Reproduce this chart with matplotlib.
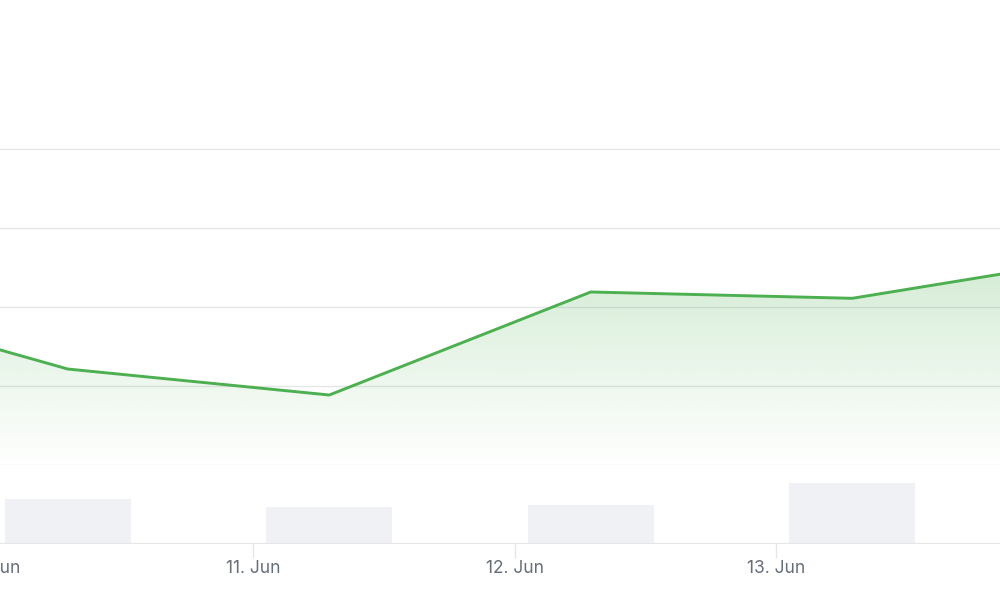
import matplotlib.pyplot as plt
import matplotlib.dates as mdates
import matplotlib.transforms as mtransforms
import numpy as np
import pandas as pd
from matplotlib.colors import to_rgb

plt.rcParams["font.family"] = ["Inter", "DejaVu Sans"]

# line series (daily points, values in grid units)
line_dates = pd.to_datetime(["2024-06-09 07:00", "2024-06-10 07:00", "2024-06-11 07:00",
                             "2024-06-12 07:00", "2024-06-13 07:00", "2024-06-14 07:00"])
line_values = [2.15, 1.215, 0.886, 2.19, 2.11, 2.65]

# volume bars
bar_dates = pd.to_datetime(["2024-06-10 07:00", "2024-06-11 07:00",
                            "2024-06-12 07:00", "2024-06-13 07:00"])
bar_values = [44, 36, 38, 60]

tick_dates = pd.to_datetime(["2024-06-10", "2024-06-11", "2024-06-12", "2024-06-13", "2024-06-14"])
tick_labels = ["10. Jun", "11. Jun", "12. Jun", "13. Jun", "14. Jun"]

line_color = "#4caf50"
grid_color = "#e6e6e6"
bar_color = "#eff1f5"
text_color = "#666e7a"

x0 = mdates.date2num(pd.Timestamp("2024-06-10")) + 8.5 / 261.5
x1 = x0 + 1000 / 261.5

fig = plt.figure(figsize=(10, 6), dpi=100)
ax = fig.add_axes([0, 135 / 600, 1, 465 / 600])
axb = fig.add_axes([0, 57 / 600, 1, 78 / 600], sharex=ax)
axb.patch.set_alpha(0)

# top pane: line with gradient fill
xs = mdates.date2num(line_dates)
ax.set_xlim(x0, x1)
ax.set_ylim(0, 465 / 79)
ax.set_yticks([0, 1, 2, 3, 4])
ax.grid(axis="y", color=grid_color, linewidth=1)
ax.set_axisbelow(True)
fill = ax.fill_between(xs, line_values, 0, color="none")
rgb = to_rgb(line_color)
grad = np.zeros((256, 1, 4))
grad[:, 0, :3] = rgb
grad[:, 0, 3] = np.linspace(0.25, 0.0, 256)
top = max(line_values)
img = ax.imshow(grad, extent=[xs[0], xs[-1], 0, top], aspect="auto", origin="upper", zorder=1)
img.set_clip_path(fill.get_paths()[0], transform=ax.transData)
ax.plot(xs, line_values, color=line_color, linewidth=2.1, zorder=3, solid_joinstyle="round")
ax.tick_params(left=False, labelleft=False, bottom=False, labelbottom=False)
for s in ax.spines.values():
    s.set_visible(False)

# bottom pane: bars
axb.bar(mdates.date2num(bar_dates), bar_values, width=126 / 261.5, color=bar_color, zorder=2)
axb.set_ylim(0, 78)
axb.set_yticks([])
for s in axb.spines.values():
    s.set_visible(False)
axb.spines["bottom"].set_visible(True)
axb.spines["bottom"].set_color(grid_color)
axb.set_xticks(mdates.date2num(tick_dates))
axb.set_xticklabels(tick_labels)
axb.tick_params(axis="x", length=11, width=1, color=grid_color, labelcolor=text_color,
                labelsize=12.5, pad=1)
axb.set_xlim(x0, x1)

# first label sits left of the visible range, draw it by hand so it is cut at the edge
trans = mtransforms.blended_transform_factory(axb.transData, axb.transAxes)
axb.text(mdates.date2num(tick_dates[0]), 0, tick_labels[0], transform=trans,
         ha="center", va="top", fontsize=12.5, color=text_color, clip_on=False,
         transform_rotates_text=False).set_transform(
    trans + mtransforms.ScaledTranslation(0, -12 / 72, fig.dpi_scale_trans))

fig.savefig("out.png", dpi=100)
